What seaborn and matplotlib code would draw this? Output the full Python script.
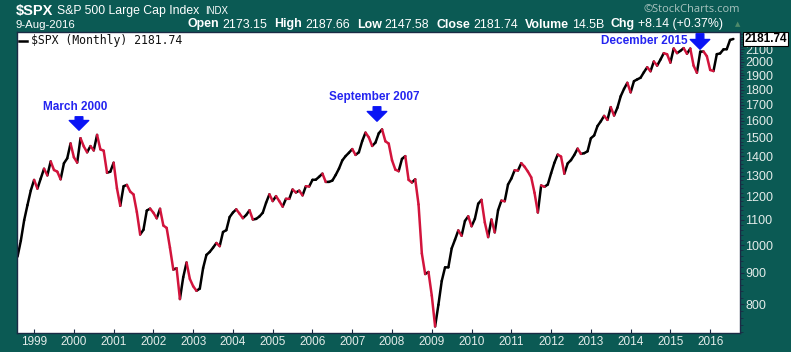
import numpy as np
import pandas as pd
import matplotlib
matplotlib.use("Agg")
import matplotlib.pyplot as plt
from matplotlib.ticker import FixedLocator, NullFormatter, FixedFormatter
from matplotlib.patches import FancyArrowPatch
from matplotlib.lines import Line2D
import seaborn as sns

# ---- data: S&P 500 monthly closes, Aug 1998 .. Aug 2016 ----
start_year, start_month = 1998, 8
closes = [
    957.28, 1017.01, 1098.67, 1163.63, 1229.23,
    1279.64, 1238.33, 1286.37, 1335.18, 1301.84, 1372.71, 1328.72, 1320.41, 1282.71, 1362.93, 1388.91, 1469.25,
    1394.46, 1366.42, 1498.58, 1452.43, 1420.60, 1454.60, 1430.83, 1517.68, 1436.51, 1429.40, 1314.95, 1320.28,
    1366.01, 1239.94, 1160.33, 1249.46, 1255.82, 1224.42, 1211.23, 1133.58, 1040.94, 1059.78, 1139.45, 1148.08,
    1130.20, 1106.73, 1147.39, 1076.92, 1067.14, 989.82, 911.62, 916.07, 815.28, 885.76, 936.31, 879.82,
    855.70, 841.15, 848.18, 916.92, 963.59, 974.50, 990.31, 1008.01, 995.97, 1050.71, 1058.20, 1111.92,
    1131.13, 1144.94, 1126.21, 1107.30, 1120.68, 1140.84, 1101.72, 1104.24, 1114.58, 1130.20, 1173.82, 1211.92,
    1181.27, 1203.60, 1180.59, 1156.85, 1191.50, 1191.33, 1234.18, 1220.33, 1228.81, 1207.01, 1249.48, 1248.29,
    1280.08, 1280.66, 1294.87, 1310.61, 1270.09, 1270.20, 1276.66, 1303.82, 1335.85, 1377.94, 1400.63, 1418.30,
    1438.24, 1406.82, 1420.86, 1482.37, 1530.62, 1503.35, 1455.27, 1473.99, 1526.75, 1549.38, 1481.14, 1468.36,
    1378.55, 1330.63, 1322.70, 1385.59, 1400.38, 1280.00, 1267.38, 1282.83, 1166.36, 968.75, 896.24, 903.25,
    825.88, 735.09, 797.87, 872.81, 919.14, 919.32, 987.48, 1020.62, 1057.08, 1036.19, 1095.63, 1115.10,
    1073.87, 1104.49, 1169.43, 1186.69, 1089.41, 1030.71, 1101.60, 1049.33, 1141.20, 1183.26, 1180.55, 1257.64,
    1286.12, 1327.22, 1325.83, 1363.61, 1345.20, 1320.64, 1292.28, 1218.89, 1131.42, 1253.30, 1246.96, 1257.60,
    1312.41, 1365.68, 1408.47, 1397.91, 1310.33, 1362.16, 1379.32, 1406.58, 1440.67, 1412.16, 1416.18, 1426.19,
    1498.11, 1514.68, 1569.19, 1597.57, 1630.74, 1606.28, 1685.73, 1632.97, 1681.55, 1756.54, 1805.81, 1848.36,
    1782.59, 1859.45, 1872.34, 1883.95, 1923.57, 1960.23, 1930.67, 2003.37, 1972.29, 2018.05, 2067.56, 2058.90,
    1994.99, 2104.50, 2067.89, 2085.51, 2107.39, 2063.11, 2103.84, 1972.18, 1920.03, 2079.36, 2080.41, 2043.94,
    1940.24, 1932.23, 2059.74, 2065.30, 2096.95, 2098.86, 2173.60, 2181.74,
]
year_ticks = list(range(1999, 2017))
price_ticks = [800, 900, 1000, 1100, 1200, 1300, 1400, 1500, 1600, 1700, 1800, 1900, 2000, 2100]
annotation_labels = ["March 2000", "September 2007", "December 2015"]
header_values = [("Open", "2173.15"), ("High", "2187.66"), ("Low", "2147.58"),
                 ("Close", "2181.74"), ("Volume", "14.5B"), ("Chg", "+8.14 (+0.37%)")]
last_close = 2181.74

# ---- build segments coloured by direction ----
t = np.array([start_year + (start_month - 1 + i) / 12.0 for i in range(len(closes))])
v = np.array(closes)
rows = []
for i in range(len(v) - 1):
    d = "up" if v[i + 1] >= v[i] else "down"
    rows.append((t[i], v[i], i, d))
    rows.append((t[i + 1], v[i + 1], i, d))
df = pd.DataFrame(rows, columns=["t", "price", "seg", "dir"])

W, H = 791, 352
BG = "#0b5a54"
LIGHT = "#e4ecea"
SANS = "Liberation Sans"
fig = plt.figure(figsize=(W / 100, H / 100), dpi=100, facecolor=BG)
ax = fig.add_axes([17 / W, 1 - 333 / H, (740 - 17) / W, (333 - 32) / H])
ax.set_facecolor("white")

sns.lineplot(data=df, x="t", y="price", units="seg", hue="dir", estimator=None,
             palette={"up": "#000000", "down": "#d2143c"}, legend=False, sort=False,
             linewidth=1.8, ax=ax, solid_capstyle="round")

ax.set_yscale("log")
ax.set_xlim(1998.57, 2016.75)
ax.set_ylim(717, 2240)
ax.set_xlabel("")
ax.set_ylabel("")

ax.yaxis.tick_right()
ax.yaxis.set_major_locator(FixedLocator(price_ticks))
ax.yaxis.set_major_formatter(FixedFormatter([str(p) for p in price_ticks]))
ax.yaxis.set_minor_locator(FixedLocator(list(range(720, 2240, 20))))
ax.yaxis.set_minor_formatter(NullFormatter())
ax.tick_params(axis="y", which="major", length=3, width=0.8, color="#1b2b45",
               labelsize=9, labelcolor=LIGHT, pad=1)
ax.tick_params(axis="y", which="minor", length=2, width=0.6, color="#1b2b45")
for lab in ax.get_yticklabels():
    lab.set_horizontalalignment("left")
    lab.set_family(SANS)

ax.xaxis.set_major_locator(FixedLocator(year_ticks))
ax.set_xticklabels([str(y) for y in year_ticks], family=SANS)
ax.tick_params(axis="x", length=3, width=0.8, color="#1b2b45", labelsize=8.5,
               labelcolor=LIGHT, pad=2, direction="in")
for s in ax.spines.values():
    s.set_color("#1b2b45")
    s.set_linewidth(1.0)
ax.grid(False)

# ---- header ----
def fy(py):
    return 1 - py / H

r = fig.canvas.get_renderer()

def put(x, y, s, **kw):
    txt = fig.text(x / W, fy(y), s, va="center", ha="left", family=SANS, color="white", **kw)
    return x + txt.get_window_extent(r).width

x = put(16, 11, "$SPX", fontsize=10.5, fontweight="bold")
x = put(x + 4, 11, "S&P 500 Large Cap Index", fontsize=8.8)
put(x + 6, 11.5, "INDX", fontsize=7)
put(16, 24.5, "9-Aug-2016", fontsize=8.2)
fig.text(740 / W, fy(9), "\u00a9StockCharts.com", color="#a9c3bf", fontsize=8, va="center",
         ha="right", family="Open Sans")

x = 188
for label_, val in header_values:
    x = put(x, 24.5, label_, fontsize=8.9, fontweight="bold")
    x = put(x + 3, 24.5, val, fontsize=8.9)
    x += 7
fig.text(738 / W, fy(24), "\u25b2", color="#4f8a6a", fontsize=5, va="center", ha="center")

# legend line
fig.add_artist(Line2D([19 / W, 27 / W], [fy(40.5), fy(40.5)], color="black", lw=1.8,
                      transform=fig.transFigure))
fig.text(31 / W, fy(40.5), "$SPX (Monthly) 2181.74", fontsize=8.3,
         family="DejaVu Sans Mono", color="#111111", va="center", ha="left")

# last value box
ax.annotate(f"{last_close:.2f}", xy=(1.0, last_close), xycoords=("axes fraction", "data"),
            xytext=(3, 0), textcoords="offset points", fontsize=8.5, fontweight="bold",
            family=SANS, va="center", ha="left", color="black",
            bbox=dict(boxstyle="square,pad=0.1", fc="white", ec="black", lw=0.8),
            annotation_clip=False)

# ---- annotations ----
BLUE = "#2424f0"
arrow = dict(arrowstyle="simple,head_length=0.7,head_width=1.4,tail_width=0.55",
             fc="#0a14f5", ec="#0a14f5", mutation_scale=10)

def label(cx, cy, s):
    fig.text(cx / W, fy(cy), s, color=BLUE, fontsize=8.5, fontweight="bold",
             family=SANS, ha="center", va="center")

def down_arrow(cx, y0, y1):
    fig.add_artist(FancyArrowPatch((cx, H - y0), (cx, H - y1), transform=None, **arrow))

label(75, 107, annotation_labels[0])
down_arrow(79, 114, 133)
label(374, 97, annotation_labels[1])
down_arrow(377, 104, 124)
label(644, 41, annotation_labels[2])
down_arrow(700, 31, 52)

fig.savefig("out.png", dpi=100, facecolor=BG)
